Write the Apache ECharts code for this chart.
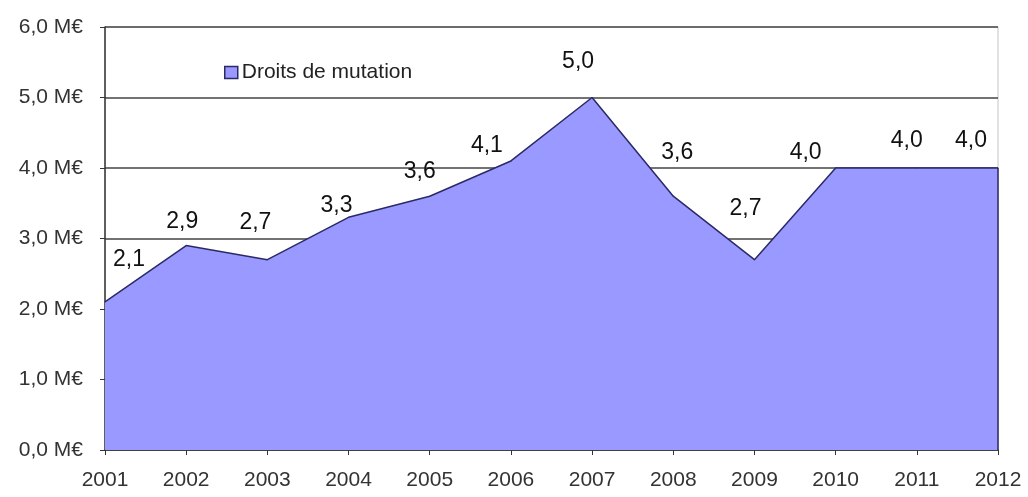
<!DOCTYPE html>
<html>
<head>
<meta charset="utf-8">
<script src="https://cdn.jsdelivr.net/npm/echarts@6/dist/echarts.min.js"></script>
<style>
  html, body { margin: 0; padding: 0; background: #fff; }
  #chart { width: 1028px; height: 497px; }
</style>
</head>
<body>
<div id="chart"></div>
<script>
// Annual transfer duties, in millions of euros
const years = ['2001', '2002', '2003', '2004', '2005', '2006', '2007', '2008', '2009', '2010', '2011', '2012'];
const droits = [2.1, 2.9, 2.7, 3.3, 3.6, 4.1, 5.0, 3.6, 2.7, 4.0, 4.0, 4.0];
const seriesName = 'Droits de mutation';
const yTicks = [0, 1, 2, 3, 4, 5, 6];

// Hand placement of each value label around its point (dx, dy in px)
const labelShift = [
  [24, -30], [-4, -12], [-12, -25], [-12, 0], [-10, -13], [-24, -3],
  [-14, -24], [4, -32], [-9, -39], [-30, -3], [-10, -15], [-27, -15]
];

const fmt = v => v.toFixed(1).replace('.', ',');
const lastYear = years[years.length - 1];
const lastValue = droits[droits.length - 1];

const chart = echarts.init(document.getElementById('chart'), null, { renderer: 'canvas' });

chart.setOption({
  backgroundColor: '#ffffff',
  animation: false,
  textStyle: { fontFamily: 'Arial, "Liberation Sans", sans-serif' },
  grid: {
    left: 105, right: 30, top: 27, bottom: 47,
    show: true, borderColor: '#c4c4c4', borderWidth: 1, backgroundColor: 'transparent'
  },
  legend: {
    data: [{
      name: seriesName,
      itemStyle: { color: '#9999ff', borderColor: '#2a2a66', borderWidth: 1.5 }
    }],
    left: 219, top: 57,
    icon: 'rect', itemWidth: 13, itemHeight: 12, itemGap: 8,
    textStyle: { fontSize: 21, color: '#222', padding: [0, 0, 0, -1] }
  },
  xAxis: {
    type: 'category',
    data: years,
    boundaryGap: false,
    axisLine: { lineStyle: { color: '#333', width: 1.5 } },
    axisTick: { show: true, length: 5, lineStyle: { color: '#333' } },
    axisLabel: { fontSize: 21, color: '#333', margin: 20 },
    splitLine: { show: false }
  },
  yAxis: {
    type: 'value',
    min: yTicks[0], max: yTicks[yTicks.length - 1], interval: 1,
    axisLine: { show: true, lineStyle: { color: '#333', width: 1.5 } },
    axisTick: { show: true, length: 5, lineStyle: { color: '#333' } },
    axisLabel: { fontSize: 21, color: '#333', margin: 22, formatter: v => fmt(v) + ' M€' },
    splitLine: { show: true, lineStyle: { color: '#444', width: 1.5 } }
  },
  series: [{
    name: seriesName,
    type: 'line',
    data: droits.map((v, i) => ({
      value: v,
      label: { offset: labelShift[i] }
    })),
    symbol: 'circle',
    symbolSize: 1,
    showSymbol: true,
    itemStyle: { color: '#2a2a66' },
    lineStyle: { color: '#2a2a66', width: 1.5 },
    areaStyle: { color: '#9999ff', opacity: 1 },
    label: {
      show: true,
      position: 'top',
      distance: 0,
      fontSize: 23,
      color: '#111',
      formatter: p => fmt(p.value)
    },
    // closing edge of the filled area on the right
    markLine: {
      silent: true,
      symbol: 'none',
      label: { show: false },
      lineStyle: { color: '#2a2a66', width: 1.5, type: 'solid' },
      data: [[{ coord: [lastYear, 0] }, { coord: [lastYear, lastValue] }]]
    },
    z: 2
  }]
});
</script>
</body>
</html>
